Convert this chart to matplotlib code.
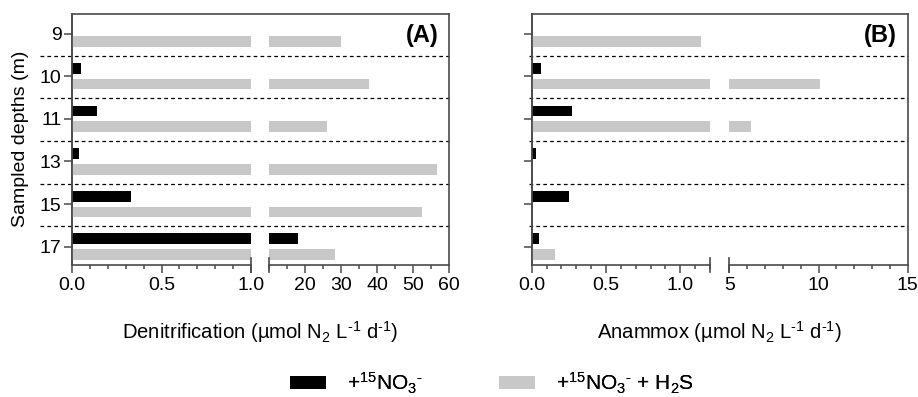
import matplotlib
matplotlib.use("Agg")
import matplotlib.pyplot as plt
from matplotlib.patches import Patch
import numpy as np

plt.rcParams['font.family'] = ['Liberation Sans', 'DejaVu Sans']
plt.rcParams['mathtext.fontset'] = 'custom'
plt.rcParams['mathtext.rm'] = 'Liberation Sans'
plt.rcParams['mathtext.it'] = 'Liberation Sans:italic'
plt.rcParams['mathtext.bf'] = 'Liberation Sans:bold'

# ---------------- data ----------------
depths = ['9', '10', '11', '13', '15', '17']
denit_no3 = [0.0, 0.05, 0.14, 0.04, 0.33, 18.0]
denit_no3_h2s = [30.0, 37.7, 26.1, 56.7, 52.5, 28.3]
anam_no3 = [0.0, 0.065, 0.27, 0.03, 0.25, 0.047]
anam_no3_h2s = [1.14, 10.1, 6.2, 0.0, 0.0, 0.157]

BLACK = '#000000'
GRAY = '#c8c8c8'
SPINE = '#4a4a4a'
FS = 14

W, H = 918, 397
fig = plt.figure(figsize=(W / 100, H / 100), dpi=100)


def fx(px):
    return px / W


def fy(py):
    return 1 - py / H


top_px, bot_px = 14, 265
ypos = np.arange(len(depths))
ylim = (5.43, -0.46)
off = 0.185
bh = 0.25


def make_panel(x0, x1, x2, x3, lims1, lims2, maj1, min1, maj2, min2, lab1, lab2,
               v_black, v_gray, letter, xlabel, ylabels, dash_ext):
    hgt = (bot_px - top_px) / H
    frame = fig.add_axes([fx(x0), fy(bot_px), fx(x3 - x0), hgt])
    frame.set_xlim(0, 1)
    frame.set_ylim(*ylim)
    frame.set_xticks([])
    frame.set_yticks([])
    frame.patch.set_alpha(0)
    for s in ['top', 'left', 'right']:
        frame.spines[s].set_color(SPINE)
        frame.spines[s].set_linewidth(1.2)
    frame.spines['bottom'].set_visible(False)
    for i in range(len(depths) - 1):
        frame.plot([dash_ext, 1], [i + 0.52, i + 0.52], ls=(0, (3, 2.5)),
                   color='black', lw=0.9, clip_on=False)
    frame.text(0.972, 0.916, letter, transform=frame.transAxes, ha='right',
               va='center', fontsize=17, fontweight='bold')

    segs = []
    for (a, b, lims, maj, mn, lab, side) in [
            (x0, x1, lims1, maj1, min1, lab1, 'L'),
            (x2, x3, lims2, maj2, min2, lab2, 'R')]:
        ax = fig.add_axes([fx(a), fy(bot_px), fx(b - a), hgt])
        ax.patch.set_alpha(0)
        ax.barh(ypos - off, v_black, height=bh, color=BLACK, lw=0)
        ax.barh(ypos + off, v_gray, height=bh, color=GRAY, lw=0)
        ax.set_xlim(*lims)
        ax.set_ylim(*ylim)
        for s in ['top', 'right', 'left']:
            ax.spines[s].set_visible(False)
        ax.spines['bottom'].set_color(SPINE)
        ax.spines['bottom'].set_linewidth(1.2)
        ax.set_xticks(maj)
        ax.set_xticklabels(lab)
        ax.set_xticks(mn, minor=True)
        ax.tick_params(axis='x', which='major', length=5.5, width=1.1,
                       color=SPINE, labelsize=FS, pad=3)
        ax.tick_params(axis='x', which='minor', length=3, width=1.1,
                       color=SPINE)
        if side == 'L':
            ax.set_yticks(ypos)
            ax.spines['left'].set_visible(True)
            ax.spines['left'].set_color(SPINE)
            ax.spines['left'].set_linewidth(1.2)
            if ylabels:
                ax.set_yticklabels(depths)
            else:
                ax.set_yticklabels([])
            ax.tick_params(axis='y', length=6, width=1.1, color=SPINE,
                           labelsize=FS, pad=1.5)
            capx = 1
        else:
            ax.set_yticks([])
            capx = 0
        d = 7 / (bot_px - top_px)
        ax.plot([capx, capx], [-d, d], transform=ax.transAxes, color=SPINE,
                lw=1.2, clip_on=False)
        segs.append(ax)
    fig.text(fx((x0 + x3) / 2), fy(332), xlabel, ha='center', va='center',
             fontsize=14.6)
    return frame, segs


make_panel(72, 251, 269.3, 449,
           (0, 1.0), (10, 60),
           [0, 0.5, 1.0], np.arange(0, 1.001, 0.1),
           [20, 30, 40, 50, 60], np.arange(10, 60.1, 5),
           ['0.0', '0.5', '1.0'], ['20', '30', '40', '50', '60'],
           denit_no3, denit_no3_h2s, '(A)',
           r'Denitrification (µmol N$_2$ L$^{\text{-}1}$ d$^{\text{-}1}$)',
           True, -0.085)

make_panel(531.7, 710, 729.3, 907.7,
           (0, 1.2), (5, 15),
           [0, 0.5, 1.0], np.arange(0, 1.201, 0.1),
           [5, 10, 15], np.arange(5, 15.1, 1),
           ['0.0', '0.5', '1.0'], ['5', '10', '15'],
           anam_no3, anam_no3_h2s, '(B)',
           r'Anammox (µmol N$_2$ L$^{\text{-}1}$ d$^{\text{-}1}$)',
           False, -0.008)

fig.text(fx(21), fy(139), 'Sampled depths (m)', rotation=90, ha='center',
         va='center', fontsize=FS)

LFS = 15
legend_labels = [r'+$^{15}$NO$_3$$^{\text{-}}$',
                 r'+$^{15}$NO$_3$$^{\text{-}}$ + H$_2$S']
legend_colors = [BLACK, GRAY]
legend_x = [290, 499]
for lab, col, lx in zip(legend_labels, legend_colors, legend_x):
    lg = fig.legend([Patch(facecolor=col, edgecolor='none')], [lab],
                    loc='center left', bbox_to_anchor=(fx(lx), fy(383)),
                    frameon=False, fontsize=LFS, handlelength=1.73,
                    handleheight=0.58, handletextpad=1.0, borderpad=0,
                    borderaxespad=0)
    fig.add_artist(lg)

fig.savefig('out.png', dpi=100)
